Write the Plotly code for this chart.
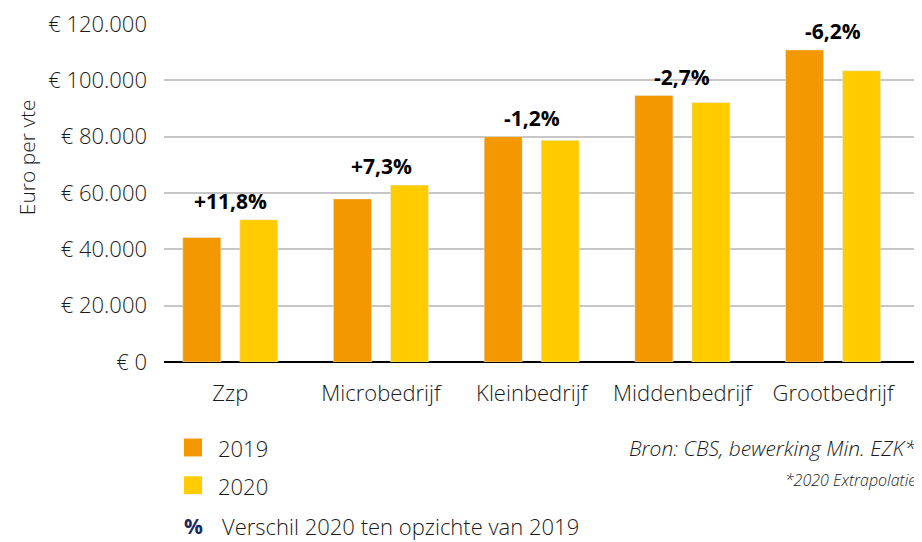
import plotly.graph_objects as go

categories = ["Zzp", "Microbedrijf", "Kleinbedrijf", "Middenbedrijf", "Grootbedrijf"]
values_2019 = [44200, 57900, 80000, 94600, 110800]
values_2020 = [50500, 62800, 78700, 92100, 103400]
pct_labels = ["+11,8%", "+7,3%", "-1,2%", "-2,7%", "-6,2%"]
tick_vals = [0, 20000, 40000, 60000, 80000, 100000, 120000]
tick_text = ["€ 0", "€ 20.000", "€ 40.000", "€ 60.000", "€ 80.000", "€ 100.000", "€ 120.000"]

C2019 = "#F39800"
C2020 = "#FFCC00"
TXT = "#1a1a1a"
FONT = "Open Sans"

# page body has an 8px margin: size the figure so it ends at the window edge
OFF = 8
W, H = 922 - OFF, 542 - OFF
L, R, T, B = 164 - OFF, 0, 14, 180
PW, PH = W - L - R, H - T - B
YMAX = 120000 * PH / 340.0  # keeps 120.000 at the reference's pixel row

def px(x):
    return (x - OFF - L) / PW

def py(y):
    return (H - B - (y - OFF)) / PH

fig = go.Figure()
fig.add_trace(go.Bar(x=categories, y=values_2019, name="2019", marker_color=C2019, showlegend=False))
fig.add_trace(go.Bar(x=categories, y=values_2020, name="2020", marker_color=C2020, showlegend=False))

annotations = []
for c, a, b, t in zip(categories, values_2019, values_2020, pct_labels):
    annotations.append(dict(x=c, y=max(a, b), text=t, showarrow=False, yanchor="bottom",
                            yshift=3, font=dict(family=FONT, size=21, color="#000000", weight="bold")))

shapes = []
for y0, col in [(439, C2019), (477, C2020)]:
    shapes.append(dict(type="rect", xref="paper", yref="paper", x0=px(184), x1=px(202),
                       y0=py(y0 + 18), y1=py(y0), fillcolor=col, line=dict(width=0)))

annotations += [
    dict(xref="paper", yref="paper", x=px(27), y=py(156), text="Euro per vte", showarrow=False,
         textangle=-90, xanchor="center", yanchor="middle",
         font=dict(family=FONT, size=21, color=TXT, weight=300)),
    dict(xref="paper", yref="paper", x=px(216), y=py(449), text="2019", showarrow=False,
         xanchor="left", yanchor="middle", font=dict(family=FONT, size=22, color=TXT, weight=300)),
    dict(xref="paper", yref="paper", x=px(216), y=py(487), text="2020", showarrow=False,
         xanchor="left", yanchor="middle", font=dict(family=FONT, size=22, color=TXT, weight=300)),
    dict(xref="paper", yref="paper", x=px(182), y=py(527), text="%", showarrow=False,
         xanchor="left", yanchor="middle", font=dict(family=FONT, size=21, color="#1b2a5e", weight="bold")),
    dict(xref="paper", yref="paper", x=px(220), y=py(527), text="Verschil 2020 ten opzichte van 2019", showarrow=False,
         xanchor="left", yanchor="middle", font=dict(family=FONT, size=22, color=TXT, weight=300)),
    dict(xref="paper", yref="paper", x=px(918), y=py(449), text="<i>Bron: CBS, bewerking Min. EZK*</i>", showarrow=False,
         xanchor="right", yanchor="middle", font=dict(family=FONT, size=21, color=TXT, weight=300)),
    dict(xref="paper", yref="paper", x=px(918), y=py(481), text="<i>*2020 Extrapolatie</i>", showarrow=False,
         xanchor="right", yanchor="middle", font=dict(family=FONT, size=16, color=TXT, weight=300)),
]

fig.update_layout(
    width=W, height=H,
    margin=dict(l=L, r=R, t=T, b=B, pad=0),
    paper_bgcolor="white", plot_bgcolor="white",
    barmode="group", bargap=0.243, bargroupgap=0.333,
    font=dict(family=FONT, size=21, color=TXT, weight=300),
    annotations=annotations, shapes=shapes,
    xaxis=dict(range=[-0.44, 4.59], showgrid=False, showline=False, zeroline=False,
               ticks="", ticklabelstandoff=16, tickfont=dict(size=22, color=TXT, weight=300)),
    yaxis=dict(range=[0, YMAX], tickvals=tick_vals, ticktext=tick_text,
               showgrid=True, gridcolor="#c6c6c6", gridwidth=2,
               zeroline=True, zerolinecolor="#000000", zerolinewidth=2,
               ticklabeloverflow="allow",
               ticks="", ticklabelstandoff=16, tickfont=dict(size=22, color=TXT, weight=300)),
)

fig.write_html("out.html")
